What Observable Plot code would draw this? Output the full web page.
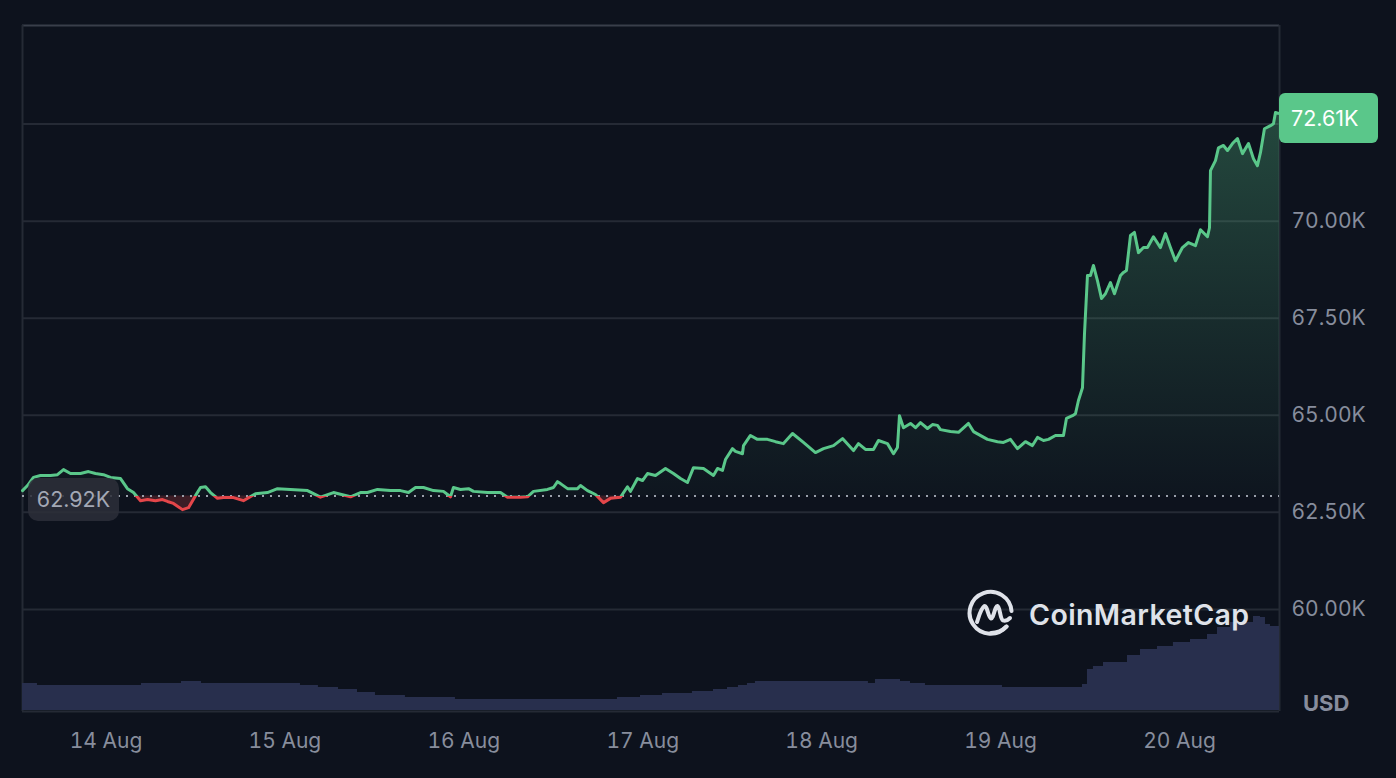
<!DOCTYPE html>
<html>
<head>
<meta charset="utf-8">
<script src="https://cdn.jsdelivr.net/npm/d3@7"></script>
<script src="https://cdn.jsdelivr.net/npm/@observablehq/plot@0.6"></script>
<style>
  html, body { margin: 0; padding: 0; background: #0d121d; }
  #wrap { position: relative; width: 1396px; height: 778px; overflow: hidden; font-family: Inter, "Noto Sans", sans-serif; background: #0d121d; }
  #wrap svg.layer { position: absolute; left: 0; top: 0; }
  .badge { position: absolute; box-sizing: border-box; display: flex; align-items: center; font-size: 21.5px; }
  #openBadge { background: rgba(44, 47, 57, 0.86); color: #a3a8b5; border-radius: 10px; justify-content: center; }
  #lastBadge { background: #5ac78a; color: #ffffff; border-radius: 6px; padding-left: 12px; }
  #usd { position: absolute; font-size: 22px; font-weight: 700; color: #878d9d; }
  #mark { position: absolute; display: flex; align-items: center; gap: 13px; color: #dfe2e9; font-size: 28.5px; font-weight: 600; letter-spacing: 0.4px; }
</style>
</head>
<body>
<div id="wrap"></div>
<script>
// ---------- data ----------
const baseDateUTC = Date.UTC(2024, 7, 13); // hours below are counted from 13 Aug 00:00 UTC
const xDomainHours = [12.8, 181.42];
const yDomainK = [57.37, 75.04];
const yGridK = [60, 62.5, 65, 67.5, 70, 72.5];
const yLabelK = [60, 62.5, 65, 67.5, 70];   // 72.50K is hidden under the last-price badge
const dayTicks = ["2024-08-14", "2024-08-15", "2024-08-16", "2024-08-17", "2024-08-18", "2024-08-19", "2024-08-20"];
const openPriceK = 62.92;
const lastPriceK = 72.61;
const currencyLabel = "USD";
const brand = "CoinMarketCap";

const priceHours = [
  12.80,13.47,14.27,15.21,16.56,17.49,18.30,19.24,20.58,21.65,
  22.59,23.66,24.60,25.95,26.88,27.69,28.63,29.57,30.64,31.58,
  32.25,33.05,34.26,35.07,36.01,36.68,37.35,38.02,38.96,39.76,
  41.10,42.44,44.05,45.66,47.01,48.75,51.03,52.77,54.52,56.80,
  58.14,59.08,60.42,62.16,63.50,64.58,65.52,66.59,67.93,69.27,
  70.21,70.61,71.55,72.63,73.30,75.18,76.92,77.86,79.60,80.54,
  81.35,83.22,84.03,84.57,84.97,85.91,87.25,87.65,88.59,89.66,
  90.74,91.67,93.02,93.95,94.36,95.30,95.97,96.64,97.71,99.05,
  100.12,101.07,102.00,102.81,104.15,105.49,106.03,106.70,107.10,108.04,
  108.44,109.38,109.52,110.45,111.39,112.73,113.81,114.88,116.09,117.56,
  119.17,120.25,121.59,122.80,124.27,124.94,125.88,126.95,127.62,128.83,
  129.64,130.17,130.44,130.98,131.92,132.59,133.26,134.20,134.87,135.54,
  135.94,137.28,138.36,139.70,140.37,141.58,142.25,143.59,144.39,145.33,
  146.27,147.34,148.28,148.95,149.76,150.43,151.37,152.44,152.84,153.65,
  154.05,154.45,154.99,155.26,155.66,156.06,156.46,157.00,157.54,158.07,
  158.74,159.28,160.09,160.49,160.89,161.43,161.96,162.50,163.17,163.71,
  164.51,165.45,166.12,166.79,167.46,168.40,169.21,170.15,170.82,171.76,
  172.03,172.16,172.83,173.23,173.90,174.44,175.11,175.78,176.45,177.26,
  177.93,178.46,178.87,179.40,180.21,180.61,180.88,181.42
];
const priceK = [
  63.06,63.19,63.40,63.45,63.45,63.47,63.60,63.50,63.50,63.55,
  63.50,63.47,63.40,63.37,63.11,63.01,62.80,62.83,62.80,62.83,
  62.78,62.73,62.57,62.62,62.93,63.14,63.16,63.01,62.86,62.88,
  62.88,62.80,62.98,63.01,63.11,63.09,63.06,62.89,63.01,62.90,
  63.01,63.01,63.09,63.06,63.06,63.01,63.14,63.14,63.06,63.04,
  62.90,63.14,63.09,63.11,63.04,63.01,63.01,62.89,62.89,62.90,
  63.04,63.09,63.14,63.29,63.24,63.11,63.11,63.19,63.06,62.96,
  62.75,62.86,62.89,63.16,63.04,63.37,63.32,63.50,63.45,63.63,
  63.50,63.37,63.27,63.65,63.63,63.45,63.63,63.58,63.86,64.14,
  64.07,64.01,64.22,64.48,64.38,64.38,64.32,64.27,64.53,64.30,
  64.04,64.14,64.22,64.40,64.09,64.27,64.12,64.12,64.35,64.27,
  64.01,64.17,64.99,64.68,64.79,64.68,64.81,64.66,64.76,64.74,
  64.63,64.58,64.56,64.79,64.58,64.45,64.38,64.32,64.30,64.38,
  64.14,64.32,64.22,64.43,64.35,64.38,64.48,64.48,64.92,64.99,
  65.04,65.38,65.71,67.10,68.60,68.60,68.86,68.47,68.01,68.13,
  68.42,68.13,68.60,68.68,68.73,69.63,69.71,69.19,69.32,69.32,
  69.60,69.32,69.68,69.32,68.98,69.32,69.45,69.37,69.78,69.60,
  69.83,71.30,71.56,71.89,71.95,71.82,72.00,72.13,71.74,72.00,
  71.61,71.43,71.77,72.38,72.46,72.51,72.80,72.77
];
const volumeHours = [
  12.80,14.81,28.76,34.13,36.81,50.09,52.50,55.19,57.74,60.15,
  64.17,70.88,92.61,95.70,98.65,102.67,105.49,107.37,108.84,110.05,
  111.12,126.28,127.22,130.58,131.92,133.93,135.27,144.26,154.99,155.66,
  156.46,157.81,161.03,162.77,165.05,167.19,169.48,171.76,173.10,174.84,
  177.93,178.87,179.54,180.21,181.42
];
const volumeRel = [
  27,25,27,29,27,25,23,21,18,15,
  13,11,13,15,17,19,21,23,25,27,
  29,27,31,29,27,25,25,23,26,41,
  44,48,55,61,64,68,71,76,83,88,
  94,93,86,84,84
];

// ---------- build ----------
const toDate = h => new Date(baseDateUTC + h * 3600e3);
const prices = priceHours.map((h, i) => ({ t: toDate(h), p: priceK[i] }));
const volumes = volumeHours.map((h, i) => ({ t: toDate(h), v: volumeRel[i] }));
const xDomain = xDomainHours.map(toDate);
const dayDates = dayTicks.map(s => new Date(s + "T00:00:00Z"));

const W = 1396, H = 778;
const M = { left: 22, right: 117, top: 25, bottom: 67 };
const UP = "#5ac78a", DOWN = "#e4464a";
const GRID = "#252a35";

const chart = Plot.plot({
  width: W, height: H,
  marginLeft: M.left, marginRight: M.right, marginTop: M.top, marginBottom: M.bottom,
  style: { background: "transparent", color: "#878d9c", fontFamily: "Inter, 'Noto Sans', sans-serif", fontSize: "21px", overflow: "visible" },
  x: { type: "utc", domain: xDomain, label: null },
  y: { domain: yDomainK, label: null },
  marks: [
    Plot.ruleY(yGridK, { stroke: GRID, strokeWidth: 2 }),
    Plot.ruleY([yDomainK[0]], { stroke: GRID, strokeWidth: 2 }),
    Plot.ruleY([yDomainK[1]], { stroke: "#393e4a", strokeWidth: 2 }),
    Plot.ruleX([xDomain[0], xDomain[1]], { stroke: GRID, strokeWidth: 2 }),
    Plot.areaY(prices, { x: "t", y1: () => openPriceK, y2: d => Math.max(d.p, openPriceK), fill: "url(#upGrad)" }),
    Plot.areaY(prices, { x: "t", y1: d => Math.min(d.p, openPriceK), y2: () => openPriceK, fill: DOWN, fillOpacity: 0.22 }),
    Plot.ruleY([openPriceK], { stroke: "#9aa0ab", strokeWidth: 2, strokeDasharray: "2,6" }),
    Plot.line(prices, { x: "t", y: "p", stroke: UP, strokeWidth: 3 }),
    Plot.line(prices, { x: "t", y: "p", stroke: DOWN, strokeWidth: 3 }),
    Plot.axisX({ ticks: dayDates, tickFormat: d3.utcFormat("%-d %b"), tickSize: 0, tickPadding: 22, fontSize: 21, label: null }),
    Plot.axisY({ anchor: "right", ticks: yLabelK, tickFormat: d => d.toFixed(2) + "K", tickSize: 0, tickPadding: 12, fontSize: 21, label: null })
  ]
});
chart.classList.add("layer");

// gradient + clip paths, positioned through the chart's own y scale
const ns = "http://www.w3.org/2000/svg";
const yS = chart.scale("y");
const baseY = yS.apply(openPriceK);
const topY = yS.apply(d3.max(priceK));
const defs = document.createElementNS(ns, "defs");
const grad = document.createElementNS(ns, "linearGradient");
grad.setAttribute("id", "upGrad");
grad.setAttribute("gradientUnits", "userSpaceOnUse");
grad.setAttribute("x1", 0); grad.setAttribute("x2", 0);
grad.setAttribute("y1", topY); grad.setAttribute("y2", baseY);
[[0, 0.30], [0.55, 0.14], [1, 0.02]].forEach(([o, a]) => {
  const s = document.createElementNS(ns, "stop");
  s.setAttribute("offset", o);
  s.setAttribute("stop-color", UP);
  s.setAttribute("stop-opacity", a);
  grad.appendChild(s);
});
defs.appendChild(grad);
function clip(id, y, h) {
  const cp = document.createElementNS(ns, "clipPath");
  cp.setAttribute("id", id);
  const r = document.createElementNS(ns, "rect");
  r.setAttribute("x", 0); r.setAttribute("y", y);
  r.setAttribute("width", W); r.setAttribute("height", h);
  cp.appendChild(r);
  defs.appendChild(cp);
}
clip("clipUp", 0, baseY);
clip("clipDown", baseY, H - baseY);
chart.insertBefore(defs, chart.firstChild);
// find the two line groups by their stroke colour
const groups = Array.from(chart.querySelectorAll("g, path"));
const upG = groups.find(g => (g.getAttribute("stroke") || "").toLowerCase() === UP);
const downG = groups.find(g => (g.getAttribute("stroke") || "").toLowerCase() === DOWN);
if (upG) upG.setAttribute("clip-path", "url(#clipUp)");
if (downG) downG.setAttribute("clip-path", "url(#clipDown)");

// volume layer (own y scale, bottom band)
const volChart = Plot.plot({
  width: W, height: H,
  marginLeft: M.left, marginRight: M.right, marginTop: M.top, marginBottom: M.bottom,
  style: { background: "transparent", overflow: "visible" },
  x: { type: "utc", domain: xDomain, axis: null },
  y: { domain: [0, 100], range: [710, 610], axis: null },
  marks: [
    Plot.areaY(volumes, { x: "t", y: "v", curve: "step-after", fill: "#282f4d" })
  ]
});
volChart.classList.add("layer");

const wrap = document.getElementById("wrap");
wrap.appendChild(chart);
wrap.appendChild(volChart);

// badges
const ob = document.createElement("div");
ob.id = "openBadge"; ob.className = "badge";
ob.textContent = openPriceK.toFixed(2) + "K";
Object.assign(ob.style, { left: "28px", top: (baseY - 18) + "px", width: "91px", height: "43px" });
wrap.appendChild(ob);

const xS = chart.scale("x");
const lb = document.createElement("div");
lb.id = "lastBadge"; lb.className = "badge";
lb.textContent = lastPriceK.toFixed(2) + "K";
Object.assign(lb.style, { left: xS.apply(xDomain[1]) + "px", top: (yS.apply(lastPriceK) - 26) + "px", width: "99px", height: "50px" });
wrap.appendChild(lb);

const usd = document.createElement("div");
usd.id = "usd"; usd.textContent = currencyLabel;
Object.assign(usd.style, { left: "1303px", top: "690px" });
wrap.appendChild(usd);

// watermark
const mark = document.createElement("div");
mark.id = "mark";
Object.assign(mark.style, { left: "966px", top: "589px", height: "50px" });
mark.innerHTML = `<svg width="50" height="50" viewBox="0 0 50 50" fill="none" stroke="#dfe2e9" stroke-width="4" stroke-linecap="round" stroke-linejoin="round">
  <path d="M40.5 37.5 A21 21 0 1 1 45.5 22"/>
  <path d="M11 33 C13 27 15 19 18.5 17 C21 16 22.5 29 25 29.5 C27.5 30 29 16.5 31.5 17 C34 17.5 34 30 37 31.5 C39.5 32.5 42 31 44 29"/>
  <path d="M40.5 37.5 C37 41 31 44 25 44"/>
</svg><span>${brand}</span>`;
wrap.appendChild(mark);
</script>
</body>
</html>
